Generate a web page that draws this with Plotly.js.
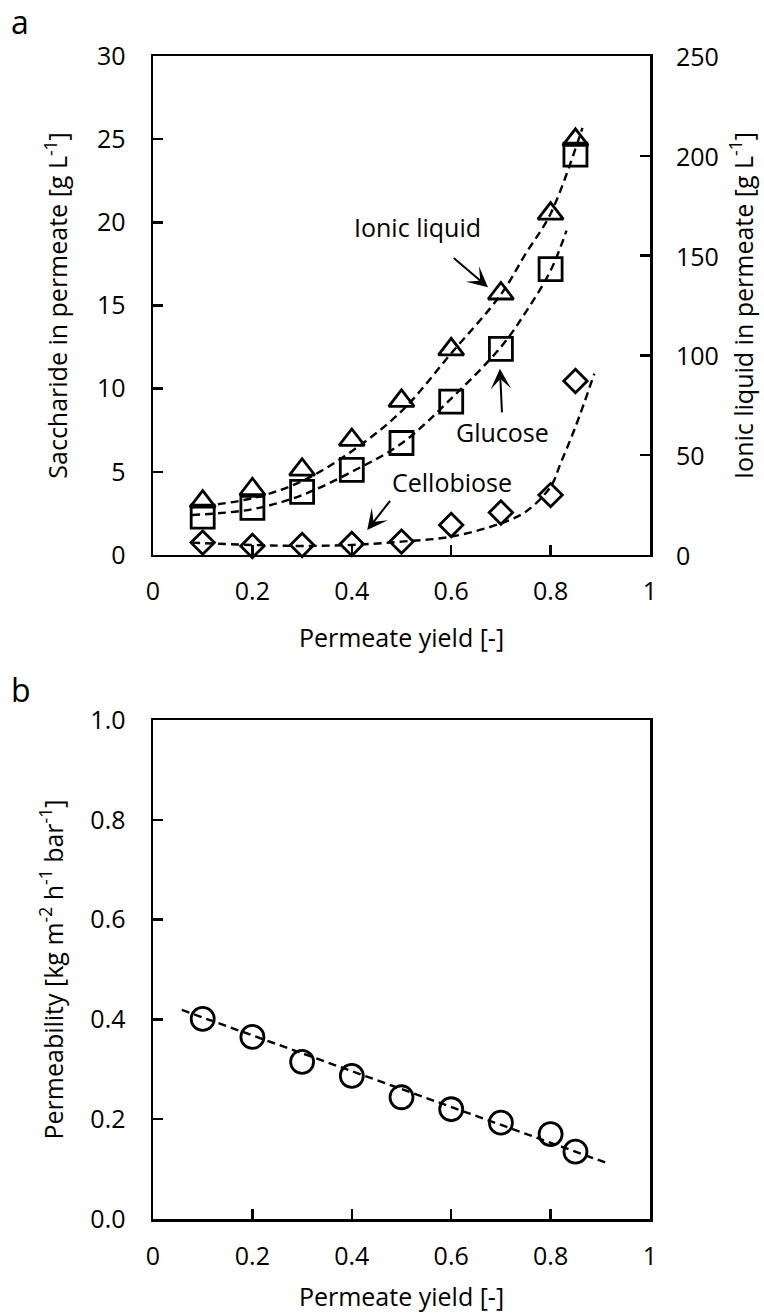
<!DOCTYPE html>
<html>
<head>
<meta charset="utf-8">
<script src="https://cdn.plot.ly/plotly-3.0.1.min.js"></script>
<style>html,body{margin:0;padding:0;background:#fff;}#chart{width:764px;height:1313px;}</style>
</head>
<body>
<div id="chart"></div>
<script>
// ---- Data ----
const yieldX = [0.1, 0.2, 0.3, 0.4, 0.5, 0.6, 0.7, 0.8, 0.85];
const ionicLiquid = [26.7, 32.9, 42.7, 57.6, 77.2, 103, 131, 171, 208];     // right axis, g/L
const glucose = [2.3, 2.83, 3.79, 5.11, 6.73, 9.22, 12.39, 17.18, 24.07];    // left axis, g/L
const cellobiose = [0.74, 0.54, 0.6, 0.66, 0.8, 1.8, 2.55, 3.6, 10.46];      // left axis, g/L
const permeability = [0.401, 0.365, 0.315, 0.287, 0.244, 0.220, 0.193, 0.170, 0.135];

// dashed fit curves
const ilFitX = [0.078, 0.2, 0.3, 0.4, 0.5, 0.6, 0.7, 0.75, 0.8, 0.864];
const ilFitY = [23.9, 28.4, 37, 52, 72, 101, 130.5, 151, 171, 214];
const glFitX = [0.078, 0.2, 0.3, 0.4, 0.5, 0.6, 0.7, 0.75, 0.8, 0.832];
const glFitY = [2.4, 2.75, 3.6, 5.0, 6.7, 9.4, 12.5, 14.6, 17.1, 19.5];
const cbFitX = [0.078, 0.2, 0.3, 0.4, 0.5, 0.6, 0.7, 0.75, 0.8, 0.82, 0.85, 0.888];
const cbFitY = [0.74, 0.6, 0.54, 0.6, 0.8, 1.1, 1.9, 2.6, 4.1, 5.5, 7.7, 10.9];
const permFitX = [0.058, 0.911];
const permFitY = [0.419, 0.113];

// right-axis tick labels (ionic liquid, g/L)
const rightTicks = [0, 50, 100, 150, 200, 250];

const FONT = 'Open Sans, Carlito, Calibri, sans-serif';
const dashLine = {color: 'black', width: 2.4, dash: '8px,5px'};
function mk(sym, size) { return {symbol: sym, size: size, color: 'black', line: {color: 'black', width: 2.8}}; }

const traces = [
  {x: ilFitX, y: ilFitY, xaxis: 'x', yaxis: 'y2', mode: 'lines', line: Object.assign({shape: 'spline'}, dashLine), hoverinfo: 'skip', showlegend: false},
  {x: glFitX, y: glFitY, xaxis: 'x', yaxis: 'y', mode: 'lines', line: Object.assign({shape: 'spline'}, dashLine), hoverinfo: 'skip', showlegend: false},
  {x: cbFitX, y: cbFitY, xaxis: 'x', yaxis: 'y', mode: 'lines', line: Object.assign({shape: 'spline'}, dashLine), hoverinfo: 'skip', showlegend: false},
  {x: yieldX, y: ionicLiquid, xaxis: 'x', yaxis: 'y2', mode: 'markers', name: 'Ionic liquid', marker: mk('triangle-up-open', 22), cliponaxis: false},
  {x: yieldX, y: glucose, xaxis: 'x', yaxis: 'y', mode: 'markers', name: 'Glucose', marker: mk('square-open', 23), cliponaxis: false},
  {x: yieldX, y: cellobiose, xaxis: 'x', yaxis: 'y', mode: 'markers', name: 'Cellobiose', marker: mk('diamond-open', 18), cliponaxis: false},
  {x: permFitX, y: permFitY, xaxis: 'x2', yaxis: 'y3', mode: 'lines', line: dashLine, hoverinfo: 'skip', showlegend: false},
  {x: yieldX, y: permeability, xaxis: 'x2', yaxis: 'y3', mode: 'markers', name: 'Permeability', marker: mk('circle-open', 23), cliponaxis: false}
];

const axBase = {
  showline: true, linecolor: 'black', linewidth: 2.5,
  ticks: 'inside', ticklen: 10, tickwidth: 2.5, tickcolor: 'black',
  showgrid: false, zeroline: false,
  tickfont: {family: FONT, size: 25, color: 'black'}
};
const titleFont = {family: FONT, size: 25, color: 'black'};
const txtFont = {family: FONT, size: 25, color: 'black'};
const arrowStyle = {showarrow: true, arrowhead: 3, arrowsize: 1.7, arrowwidth: 2, arrowcolor: 'black', standoff: 0};

const annotations = [
  {xref: 'paper', yref: 'paper', x: -0.268, y: 1.03, text: 'a', showarrow: false, font: {family: FONT, size: 32, color: 'black'}, xanchor: 'center', yanchor: 'middle'},
  {xref: 'paper', yref: 'paper', x: -0.266, y: 0.455, text: 'b', showarrow: false, font: {family: FONT, size: 32, color: 'black'}, xanchor: 'center', yanchor: 'middle'},
  Object.assign({xref: 'x', yref: 'y', axref: 'x', ayref: 'y', x: 0.674, y: 16.1, ax: 0.532, ay: 19.7, text: 'Ionic liquid', font: txtFont, startstandoff: 19}, arrowStyle),
  Object.assign({xref: 'x', yref: 'y', axref: 'x', ayref: 'y', x: 0.698, y: 11.2, ax: 0.704, ay: 7.4, text: 'Glucose', font: txtFont, startstandoff: 1}, arrowStyle),
  Object.assign({xref: 'x', yref: 'y', axref: 'x', ayref: 'y', x: 0.431, y: 1.5, ax: 0.477, ay: 3.25, text: 'Cellobiose', font: txtFont, xanchor: 'left', yanchor: 'bottom', startstandoff: 0}, arrowStyle)
];
// right axis tick labels, placed on the y2 scale
rightTicks.forEach(function (v) {
  annotations.push({xref: 'paper', yref: 'y2', x: 1, y: v, xanchor: 'left', yanchor: 'middle', xshift: 24, text: String(v), showarrow: false, font: txtFont});
});

const layout = {
  width: 764, height: 1313,
  margin: {l: 153, r: 114, t: 56, b: 94},
  paper_bgcolor: 'white', plot_bgcolor: 'white',
  showlegend: false,
  font: {family: FONT, color: 'black'},
  xaxis: Object.assign({}, axBase, {domain: [0, 1], anchor: 'y', range: [0, 1], dtick: 0.2, tick0: 0, mirror: true, ticklabelstandoff: 13,
    title: {text: 'Permeate yield [-]', font: titleFont, standoff: 23}}),
  yaxis: Object.assign({}, axBase, {domain: [0.571, 1], anchor: 'x', range: [0, 30], dtick: 5, tick0: 0, ticklabelstandoff: 20,
    title: {text: 'Saccharide in permeate [g L<sup>-1</sup>]', font: titleFont, standoff: 22}}),
  yaxis2: Object.assign({}, axBase, {overlaying: 'y', side: 'right', anchor: 'x', range: [0, 250], dtick: 50, tick0: 0, showticklabels: false,
    title: {text: 'Ionic liquid in permeate [g L<sup>-1</sup>]', font: titleFont, standoff: 84}}),
  xaxis2: Object.assign({}, axBase, {domain: [0, 1], anchor: 'y3', range: [0, 1], dtick: 0.2, tick0: 0, mirror: true, ticklabelstandoff: 13,
    title: {text: 'Permeate yield [-]', font: titleFont, standoff: 27}}),
  yaxis3: Object.assign({}, axBase, {domain: [0, 0.429], anchor: 'x2', range: [0, 1], dtick: 0.2, tick0: 0, tickformat: '.1f', mirror: true, ticklabelstandoff: 20,
    title: {text: 'Permeability [kg m<sup>-2</sup> h<sup>-1</sup> bar<sup>-1</sup>]', font: titleFont, standoff: 20}}),
  annotations: annotations
};

Plotly.newPlot('chart', traces, layout, {staticPlot: true, displayModeBar: false});
</script>
</body>
</html>
